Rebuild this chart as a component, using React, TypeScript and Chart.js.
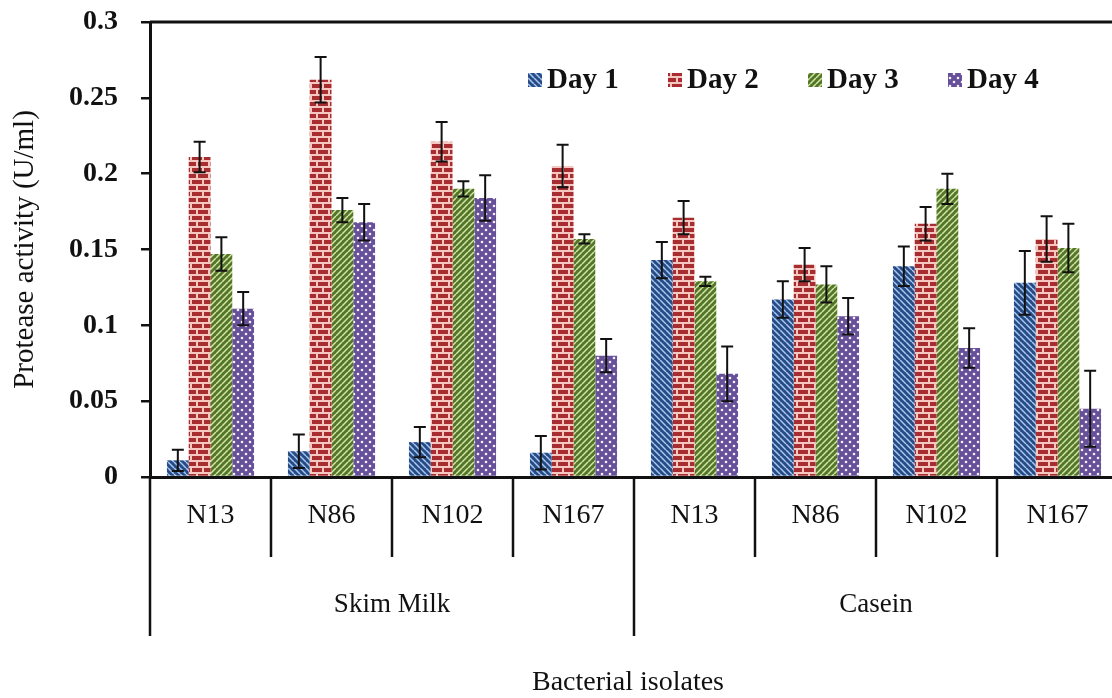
import React, { useEffect, useRef } from 'react';
import { Chart, registerables } from 'chart.js';

Chart.register(...registerables);

const categories = ['N13', 'N86', 'N102', 'N167', 'N13', 'N86', 'N102', 'N167'];
const groupLabels = ['Skim Milk', 'Casein'];
const groupSizes = [4, 4];
const seriesLabels = ['Day 1', 'Day 2', 'Day 3', 'Day 4'];
const day1 = [0.011, 0.017, 0.023, 0.016, 0.143, 0.117, 0.139, 0.128];
const day2 = [0.211, 0.262, 0.221, 0.205, 0.171, 0.140, 0.167, 0.157];
const day3 = [0.147, 0.176, 0.190, 0.157, 0.129, 0.127, 0.190, 0.151];
const day4 = [0.111, 0.168, 0.184, 0.080, 0.068, 0.106, 0.085, 0.045];
const err1 = [0.007, 0.011, 0.010, 0.011, 0.012, 0.012, 0.013, 0.021];
const err2 = [0.010, 0.015, 0.013, 0.014, 0.011, 0.011, 0.011, 0.015];
const err3 = [0.011, 0.008, 0.005, 0.003, 0.003, 0.012, 0.010, 0.016];
const err4 = [0.011, 0.012, 0.015, 0.011, 0.018, 0.012, 0.013, 0.025];
const yTicks = [0, 0.05, 0.1, 0.15, 0.2, 0.25, 0.3];
const yTitle = 'Protease activity (U/ml)';
const xTitle = 'Bacterial isolates';

const FONT = '"Liberation Serif", "Times New Roman", serif';

function stripePattern(base: string, stripe: string, back: boolean): CanvasPattern {
  const s = 6;
  const c = document.createElement('canvas');
  c.width = s;
  c.height = s;
  const g = c.getContext('2d')!;
  g.fillStyle = base;
  g.fillRect(0, 0, s, s);
  g.strokeStyle = stripe;
  g.lineWidth = 1.5;
  for (let k = -s; k <= s; k += s) {
    g.beginPath();
    if (back) {
      g.moveTo(k, 0);
      g.lineTo(k + s, s);
    } else {
      g.moveTo(k, s);
      g.lineTo(k + s, 0);
    }
    g.stroke();
  }
  return g.createPattern(c, 'repeat')!;
}

function brickPattern(brick: string, mortar: string): CanvasPattern {
  const c = document.createElement('canvas');
  c.width = 12;
  c.height = 12;
  const g = c.getContext('2d')!;
  g.fillStyle = mortar;
  g.fillRect(0, 0, 12, 12);
  g.fillStyle = brick;
  g.fillRect(0, 0, 10, 4);
  g.fillRect(0, 6, 4, 4);
  g.fillRect(6, 6, 6, 4);
  return g.createPattern(c, 'repeat')!;
}

function dotPattern(base: string, dot: string): CanvasPattern {
  const c = document.createElement('canvas');
  c.width = 8;
  c.height = 8;
  const g = c.getContext('2d')!;
  g.fillStyle = base;
  g.fillRect(0, 0, 8, 8);
  g.fillStyle = dot;
  for (const [x, y] of [[2, 2], [6, 6]]) {
    g.beginPath();
    g.arc(x, y, 1.3, 0, Math.PI * 2);
    g.fill();
  }
  return g.createPattern(c, 'repeat')!;
}

export default function App() {
  const ref = useRef<HTMLCanvasElement | null>(null);

  useEffect(() => {
    const canvas = ref.current!;
    const patterns = [
      stripePattern('#264b86', '#a9c8ee', true),
      brickPattern('#a82d30', '#f6c6c0'),
      stripePattern('#54762a', '#d2e5a4', false),
      dotPattern('#67509a', '#f4f0fb'),
    ];
    const values = [day1, day2, day3, day4];
    const errors = [err1, err2, err3, err4];

    const errorBars = {
      id: 'errorBars',
      afterDatasetsDraw(chart: any) {
        const ctx = chart.ctx;
        const y = chart.scales.y;
        ctx.save();
        ctx.strokeStyle = '#111';
        ctx.lineWidth = 2;
        chart.data.datasets.forEach((ds: any, i: number) => {
          const meta = chart.getDatasetMeta(i);
          meta.data.forEach((bar: any, j: number) => {
            const v = values[i][j];
            const e = errors[i][j];
            const x = bar.x;
            const t = y.getPixelForValue(v + e);
            const b = y.getPixelForValue(Math.max(0, v - e));
            ctx.beginPath();
            ctx.moveTo(x, t);
            ctx.lineTo(x, b);
            ctx.moveTo(x - 6, t);
            ctx.lineTo(x + 6, t);
            ctx.moveTo(x - 6, b);
            ctx.lineTo(x + 6, b);
            ctx.stroke();
          });
        });
        ctx.restore();
      },
    };

    const decorations = {
      id: 'decorations',
      afterDraw(chart: any) {
        const ctx = chart.ctx;
        const { left, right, top, bottom } = chart.chartArea;
        const xs = chart.scales.x;
        ctx.save();
        ctx.strokeStyle = '#111';
        ctx.lineWidth = 3;
        // top & right border
        ctx.beginPath();
        ctx.moveTo(left, top);
        ctx.lineTo(right, top);
        ctx.lineTo(right, bottom);
        ctx.stroke();
        // dividers
        const half = (xs.getPixelForValue(1) - xs.getPixelForValue(0)) / 2;
        const innerEnd = bottom + 80;
        const outerEnd = bottom + 159;
        ctx.lineWidth = 2.5;
        ctx.beginPath();
        ctx.moveTo(left, bottom);
        ctx.lineTo(left, outerEnd);
        let idx = 0;
        const groupBounds: number[] = [];
        groupSizes.forEach((size) => {
          const startX = xs.getPixelForValue(idx) - half;
          for (let k = 1; k < size; k++) {
            const bx = xs.getPixelForValue(idx + k) - half;
            ctx.moveTo(bx, bottom);
            ctx.lineTo(bx, innerEnd);
          }
          idx += size;
          const endX = xs.getPixelForValue(idx - 1) + half;
          ctx.moveTo(endX, bottom);
          ctx.lineTo(endX, outerEnd);
          groupBounds.push((startX + endX) / 2);
        });
        ctx.stroke();
        // group labels
        ctx.fillStyle = '#111';
        ctx.textAlign = 'center';
        ctx.textBaseline = 'middle';
        ctx.font = `27px ${FONT}`;
        groupLabels.forEach((g, i) => ctx.fillText(g, groupBounds[i], bottom + 128));
        // x title
        ctx.font = `28px ${FONT}`;
        ctx.fillText(xTitle, (left + right) / 2 - 6, bottom + 206);
        // legend
        ctx.font = `bold 29px ${FONT}`;
        ctx.textAlign = 'left';
        const ly = 80;
        seriesLabels.forEach((lab, i) => {
          const lx = 528 + i * 140;
          ctx.fillStyle = patterns[i];
          ctx.fillRect(lx, ly - 7, 14, 14);
          ctx.fillStyle = '#111';
          ctx.fillText(lab, lx + 19, ly + 1);
        });
        ctx.restore();
      },
    };

    const chart = new Chart(canvas, {
      type: 'bar',
      data: {
        labels: categories,
        datasets: seriesLabels.map((label, i) => ({
          label,
          data: values[i],
          backgroundColor: patterns[i],
          borderWidth: 0,
          categoryPercentage: 0.72,
          barPercentage: 1.0,
        })),
      },
      options: {
        animation: false,
        responsive: false,
        maintainAspectRatio: false,
        layout: { padding: { left: 0, top: 22, right: 12, bottom: 0 } },
        plugins: { legend: { display: false }, tooltip: { enabled: false } },
        scales: {
          x: {
            type: 'category',
            grid: { display: false, drawTicks: false },
            border: { display: true, color: '#111', width: 3 },
            ticks: {
              color: '#111',
              font: { family: FONT, size: 28 },
              padding: 22,
              maxRotation: 0,
              autoSkip: false,
            },
            afterFit: (s: any) => {
              s.height = 221;
              s.paddingLeft = 0;
              s.paddingRight = 0;
            },
          },
          y: {
            min: 0,
            max: 0.3,
            afterBuildTicks: (s: any) => {
              s.ticks = yTicks.map((v) => ({ value: v }));
            },
            grid: { drawOnChartArea: false, drawTicks: true, tickLength: 9, color: '#111', lineWidth: 2.5 },
            border: { display: true, color: '#111', width: 3 },
            ticks: {
              color: '#111',
              font: { family: FONT, size: 28, weight: 'bold' },
              padding: 23,
              callback: (v: any) => String(+Number(v).toFixed(2)),
            },
            title: {
              display: true,
              text: yTitle,
              color: '#111',
              font: { family: FONT, size: 29 },
              padding: { top: 8, bottom: 0 },
            },
            afterFit: (s: any) => {
              s.width = 150;
              s.paddingTop = 0;
              s.paddingBottom = 0;
            },
          },
        },
      },
      plugins: [errorBars, decorations],
    } as any);

    return () => chart.destroy();
  }, []);

  return (
    <div style={{ position: 'absolute', left: 0, top: 0, width: 1112, height: 698, overflow: 'hidden', background: '#fff' }}>
      <canvas ref={ref} width={1130} height={698} style={{ display: 'block' }} />
    </div>
  );
}
